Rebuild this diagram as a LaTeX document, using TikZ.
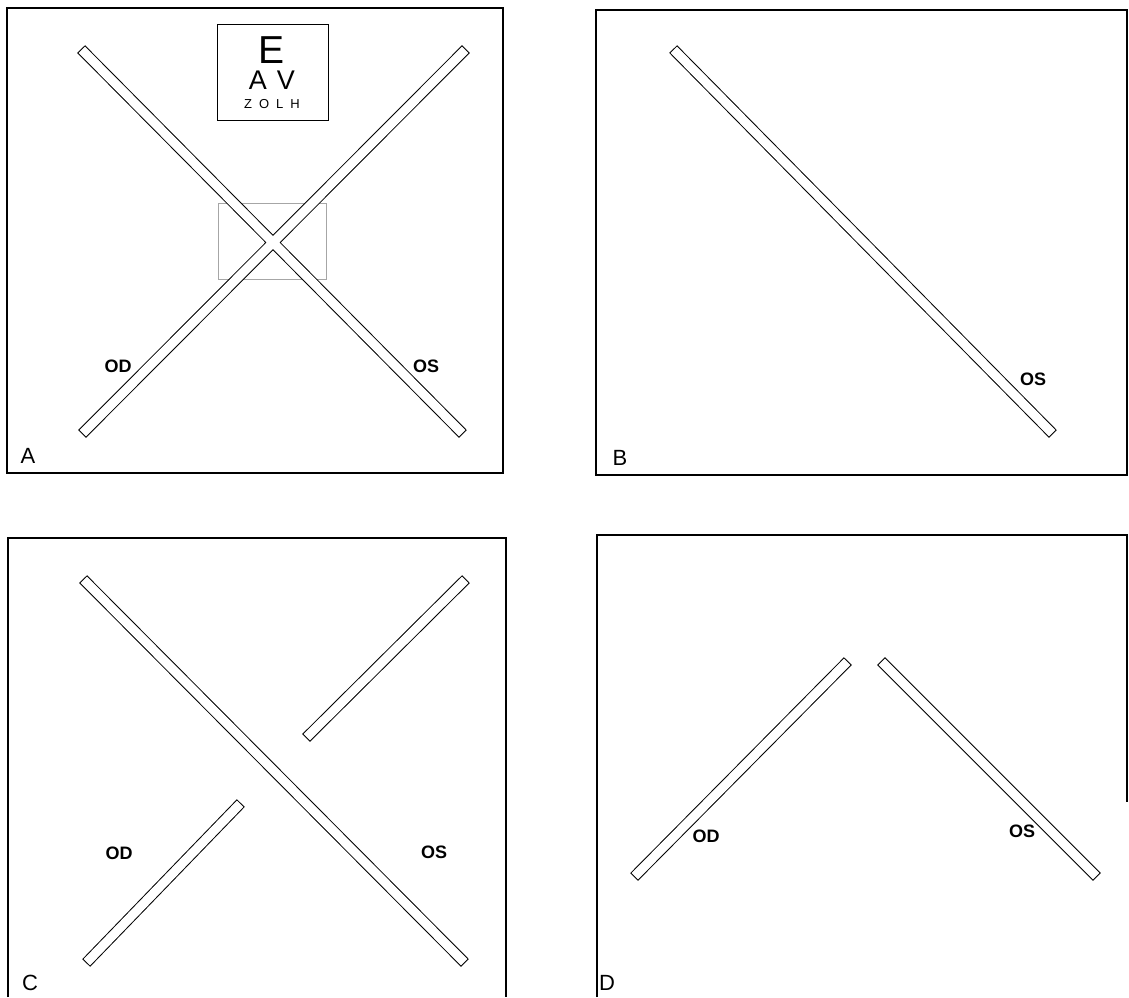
\documentclass[tikz,border=0pt]{standalone}
\usepackage{fontspec}
\setmainfont{Liberation Sans}
\begin{document}
\begin{tikzpicture}[x=1pt,y=-1pt,
  frame/.style={draw=black,line width=2pt},
  bar/.style={draw=black,line width=1pt,double=white,double distance=9pt,line cap=rect},
  panlab/.style={inner sep=0pt,font=\fontsize{22}{22}\selectfont},
  eyelab/.style={inner sep=0pt,font=\fontsize{18}{18}\selectfont\bfseries}]
\useasboundingbox (0,0) rectangle (1129,997);
% ---------- Panel A ----------
\draw[frame] (7,8) rectangle (503,473);
\node[draw=black,line width=0.8pt,minimum width=111pt,minimum height=96pt] (chart) at (272.5,72) {};
\node[inner sep=0pt,font=\fontsize{39}{39}\selectfont] (cE) at (272,50) {E};
\node[inner sep=0pt,font=\fontsize{27}{27}\selectfont] (cAV) at (272,80) {A\hspace{10pt}V};
\node[inner sep=0pt,font=\fontsize{13}{13}\selectfont] (cZ) at (272,104) {Z\hspace{7pt}O\hspace{7pt}L\hspace{7pt}H};
\draw[gray!70,line width=0.6pt] (218,203) rectangle (326,279);
\coordinate (a1) at (85,53);   \coordinate (a2) at (459,430);
\coordinate (a3) at (462,53);  \coordinate (a4) at (86,430);
\draw[bar] (a1) -- (a2) (a3) -- (a4);
\node[eyelab] (aOD) at (118,366) {OD};
\node[eyelab] (aOS) at (426,366) {OS};
\node[panlab] (aL) at (28,456) {A};
% ---------- Panel B ----------
\draw[frame] (596,10) rectangle (1127,475);
\coordinate (b1) at (677,53);  \coordinate (b2) at (1049,430);
\draw[bar] (b1) -- (b2);
\node[eyelab] (bOS) at (1033,379) {OS};
\node[panlab] (bL) at (620,458) {B};
% ---------- Panel C ----------
\draw[frame] (8,997) -- (8,538) -- (506,538) -- (506,997);
\coordinate (c1) at (87,583);  \coordinate (c2) at (461,959);
\coordinate (c3) at (462,583); \coordinate (c4) at (310,734);
\coordinate (c5) at (237,807); \coordinate (c6) at (90,959);
\draw[bar] (c1) -- (c2);
\draw[bar] (c3) -- (c4);
\draw[bar] (c5) -- (c6);
\node[eyelab] (cOD) at (119,853) {OD};
\node[eyelab] (cOS) at (434,852) {OS};
\node[panlab] (cL) at (30,983) {C};
% ---------- Panel D ----------
\draw[frame] (597,997) -- (597,535) -- (1127,535) -- (1127,802);
\coordinate (d1) at (844,665); \coordinate (d2) at (638,873);
\coordinate (d3) at (885,665); \coordinate (d4) at (1093,873);
\draw[bar] (d1) -- (d2);
\draw[bar] (d3) -- (d4);
\node[eyelab] (dOD) at (706,836) {OD};
\node[eyelab] (dOS) at (1022,831) {OS};
\node[panlab] (dL) at (607,983) {D};
\end{tikzpicture}
\end{document}
